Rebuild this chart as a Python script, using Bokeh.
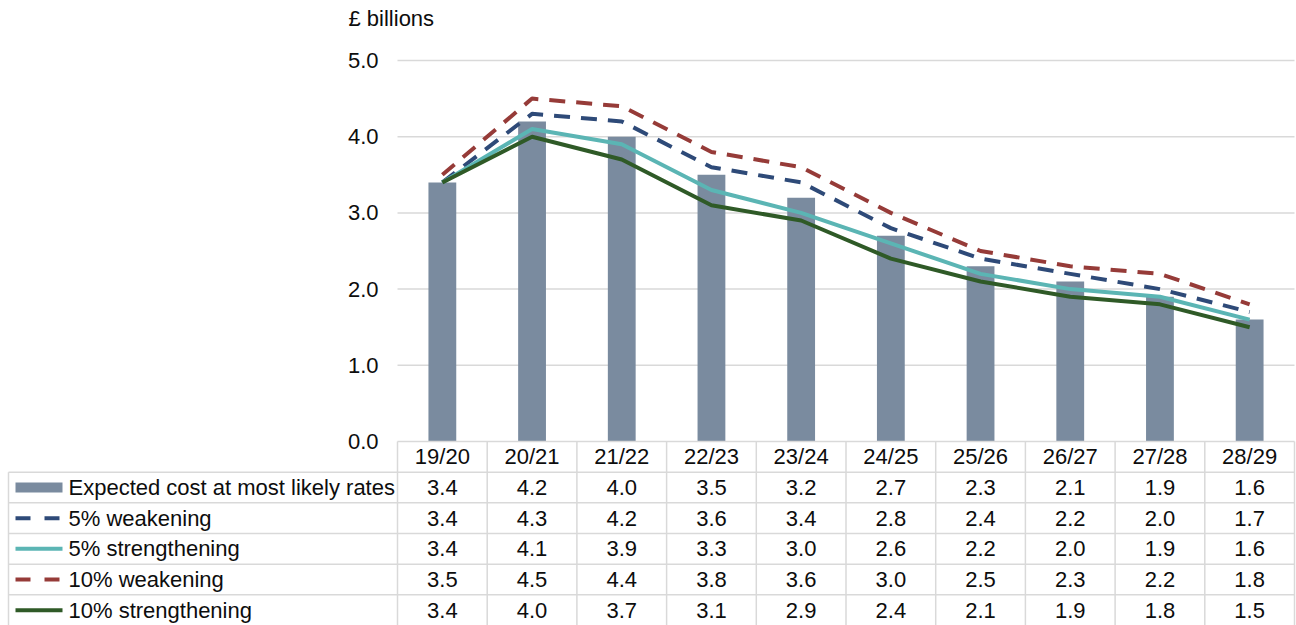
from bokeh.plotting import figure
from bokeh.models import Range1d
from bokeh.core.properties import value
from bokeh.embed import file_html
from bokeh.resources import INLINE

# ---- data -------------------------------------------------------------
years = ["19/20", "20/21", "21/22", "22/23", "23/24",
         "24/25", "25/26", "26/27", "27/28", "28/29"]
expected = [3.4, 4.2, 4.0, 3.5, 3.2, 2.7, 2.3, 2.1, 1.9, 1.6]
weak_5 = [3.4, 4.3, 4.2, 3.6, 3.4, 2.8, 2.4, 2.2, 2.0, 1.7]
strong_5 = [3.4, 4.1, 3.9, 3.3, 3.0, 2.6, 2.2, 2.0, 1.9, 1.6]
weak_10 = [3.5, 4.5, 4.4, 3.8, 3.6, 3.0, 2.5, 2.3, 2.2, 1.8]
strong_10 = [3.4, 4.0, 3.7, 3.1, 2.9, 2.4, 2.1, 1.9, 1.8, 1.5]

series_names = ["Expected cost at most likely rates", "5% weakening",
                "5% strengthening", "10% weakening", "10% strengthening"]
y_ticks = [0, 1, 2, 3, 4, 5]
unit_label = "£ billions"

# ---- styling ------------------------------------------------------------
FONT = "Liberation Sans"
FSIZE = "22px"
TXT = "#0d0d0d"
GRID = "#d9d9d9"
BAR_COLOR = "#7a8b9f"
line_styles = [  # (colour, dash) for the four exchange-rate scenarios
    ("#2e4a78", "16 11"),
    ("#5bb5b4", "solid"),
    ("#963b38", "16 11"),
    ("#2f5a27", "solid"),
]

# canvas geometry (pixels)
W, H = 1296, 625
LEFT = 397          # left edge of the plotting columns
RIGHT_PAD = 2
ZERO_Y = 441        # pixel row of value 0
TOP_Y = 60          # pixel row of value 5
n = len(years)
col_w = (W - LEFT - RIGHT_PAD) / n
ppu = (ZERO_Y - TOP_Y) / (y_ticks[-1] - y_ticks[0])
row_h = (H - ZERO_Y) / 6 / ppu   # table row height in value units


def px(x_pixel):
    """horizontal pixel -> data x"""
    return (x_pixel - LEFT) / col_w


def py(y_pixel):
    """vertical pixel (from top) -> data y"""
    return (ZERO_Y - y_pixel) / ppu


def row_mid(r):
    return -(r + 0.5) * row_h


p = figure(width=W, height=H,
           x_range=Range1d(px(0), px(W)),
           y_range=Range1d(py(H), py(0)),
           x_axis_type=None, y_axis_type=None,
           min_border=0, output_backend="svg", toolbar_location=None)
p.outline_line_color = None
p.xgrid.visible = False
p.ygrid.visible = False
p.background_fill_color = "white"
p.border_fill_color = "white"

text_kw = dict(text_font=value(FONT), text_font_size=value(FSIZE),
               text_color=TXT, text_baseline="middle")

# ---- value axis: gridlines, tick labels, unit -----------------------------
grid_ticks = y_ticks[1:]
p.segment(x0=[0] * len(grid_ticks), x1=[n] * len(grid_ticks),
          y0=grid_ticks, y1=grid_ticks, line_color=GRID, line_width=1.5)
p.text(x=[px(378)] * len(y_ticks), y=y_ticks,
       text=[f"{v:.1f}" for v in y_ticks], text_align="right", **text_kw)
p.text(x=[px(348)], y=[py(18)], text=[unit_label], text_align="left", **text_kw)

# ---- bars and scenario lines ----------------------------------------------
centers = [i + 0.5 for i in range(n)]
p.vbar(x=centers, top=expected, bottom=0, width=0.31,
       fill_color=BAR_COLOR, line_color=None)
for vals, (color, dash) in zip([weak_5, strong_5, weak_10, strong_10], line_styles):
    p.line(x=centers, y=vals, line_color=color, line_width=4, line_dash=dash,
           line_join="round")

# ---- data table -------------------------------------------------------------
table_left = px(8)
row_edges = [-r * row_h for r in range(7)]

h_x0 = [0] + [table_left] * 5
h_y = row_edges[0:6]
p.segment(x0=h_x0, y0=h_y, x1=[n] * 6, y1=h_y, line_color=GRID, line_width=1.5)
v_x = [table_left] + list(range(0, n + 1))
v_y0 = [row_edges[1]] + [row_edges[0]] * (n + 1)
p.segment(x0=v_x, y0=v_y0, x1=v_x, y1=[row_edges[6]] * len(v_x),
          line_color=GRID, line_width=1.5)

# header row: years
p.text(x=centers, y=[row_mid(0)] * n, text=years, text_align="center", **text_kw)

# value rows
all_series = [expected, weak_5, strong_5, weak_10, strong_10]
xs, ys, labels = [], [], []
for r, vals in enumerate(all_series, start=1):
    for i, v in enumerate(vals):
        xs.append(centers[i])
        ys.append(row_mid(r))
        labels.append(f"{v:.1f}")
p.text(x=xs, y=ys, text=labels, text_align="center", **text_kw)

# series names
p.text(x=[px(68)] * 5, y=[row_mid(r) for r in range(1, 6)], text=series_names,
       text_align="left", **text_kw)

# legend keys
key_l, key_r = px(15), px(62)
key_half = 5 / ppu
p.quad(left=[key_l], right=[key_r], top=[row_mid(1) + key_half],
       bottom=[row_mid(1) - key_half], fill_color=BAR_COLOR, line_color=None)
for r, (color, dash) in enumerate(line_styles, start=2):
    p.line(x=[key_l, key_r], y=[row_mid(r)] * 2, line_color=color,
           line_width=4, line_dash=("15 14" if dash != "solid" else "solid"))

open("out.html", "w").write(file_html(p, INLINE))
